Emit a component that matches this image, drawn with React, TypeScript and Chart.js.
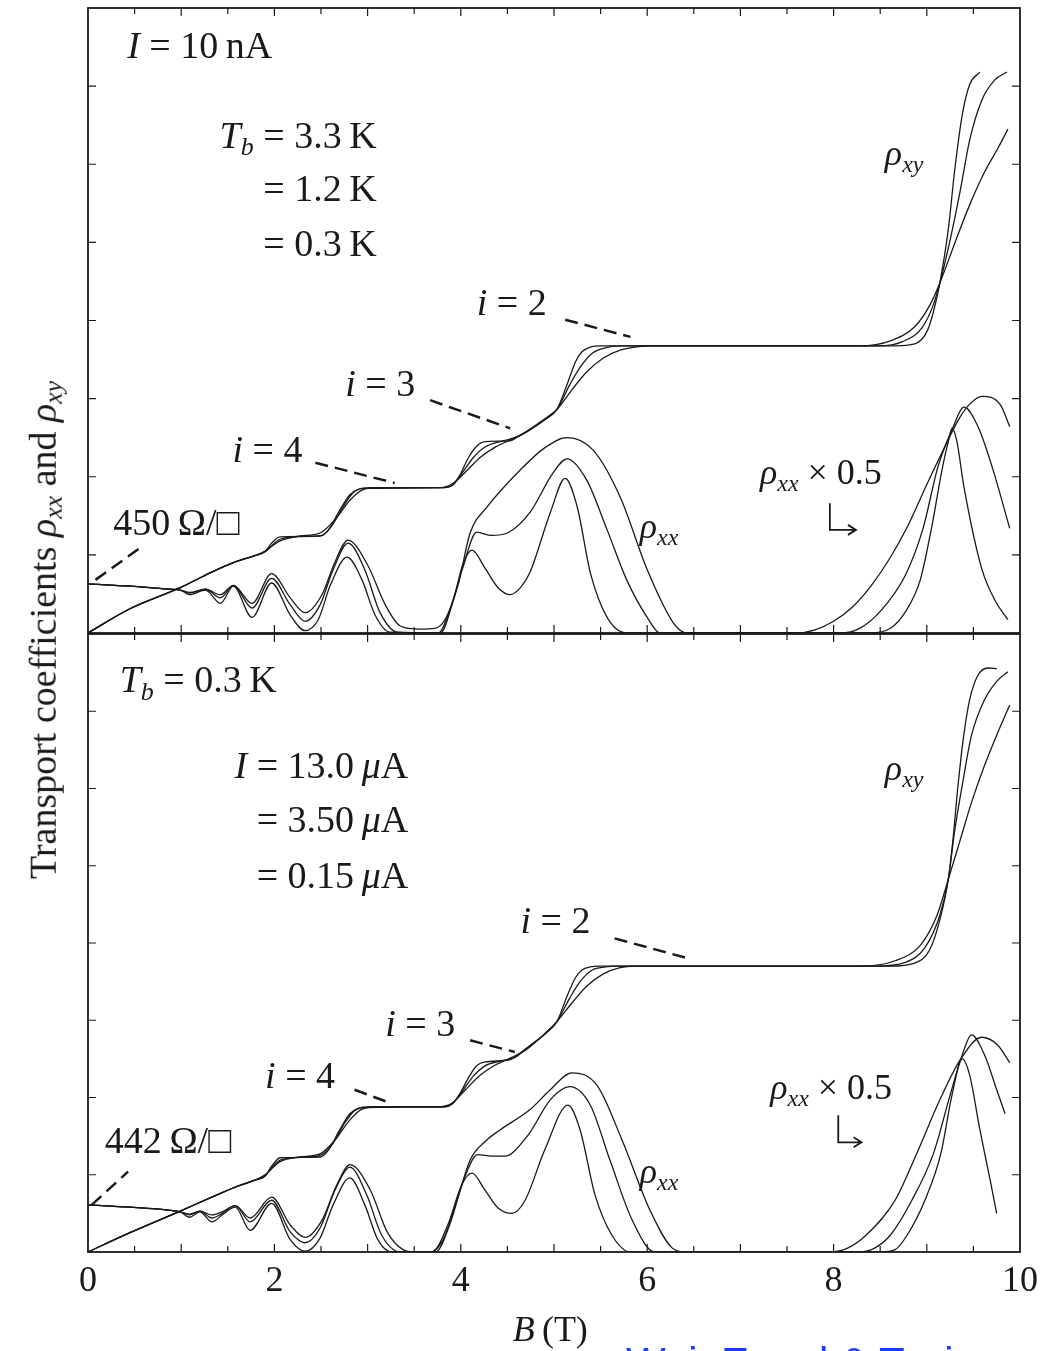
import React, { useEffect, useRef } from 'react';
import { Chart, registerables } from 'chart.js';

Chart.register(...registerables);

type Pt = [number, number];

// ---------------- DATA (B in tesla, coefficient in left-axis tick units) ----------------
const xTickValues = [0, 2, 4, 6, 8, 10];
const xTickLabels = ['0', '2', '4', '6', '8', '10'];

// Top panel: I = 10 nA, three bath temperatures
const topRhoXy_0K3: Pt[] = [
  [0, 0], [0.45, 0.31], [0.99, 0.58], [1.31, 0.77], [1.58, 0.91], [1.79, 0.99], [1.9, 1.04], [1.97, 1.15],
  [2.06, 1.23], [2.49, 1.24], [2.58, 1.32], [2.7, 1.57], [2.81, 1.77], [2.9, 1.84], [3.03, 1.86], [3.83, 1.86],
  [3.91, 1.89], [3.99, 2.02], [4.08, 2.24], [4.17, 2.39], [4.26, 2.45], [4.53, 2.46], [4.61, 2.51], [4.74, 2.6],
  [4.9, 2.73], [5.03, 2.86], [5.14, 3.18], [5.23, 3.47], [5.3, 3.6], [5.39, 3.66], [5.49, 3.675], [8.66, 3.675],
  [8.87, 3.7], [9.01, 3.88], [9.09, 4.2], [9.14, 4.48], [9.23, 5.16], [9.3, 5.93], [9.38, 6.63], [9.46, 7.02],
  [9.57, 7.18],
];
const topRhoXy_1K2: Pt[] = [
  [0, 0], [0.45, 0.31], [0.99, 0.58], [1.31, 0.77], [1.58, 0.91], [1.79, 0.99], [1.9, 1.04], [2.06, 1.2],
  [2.38, 1.24], [2.51, 1.25], [2.62, 1.38], [2.76, 1.66], [2.86, 1.81], [2.97, 1.85], [3.81, 1.86], [3.91, 1.89],
  [4.01, 2.04], [4.13, 2.24], [4.26, 2.38], [4.42, 2.45], [4.58, 2.5], [4.74, 2.6], [4.9, 2.73], [5.03, 2.86],
  [5.17, 3.18], [5.28, 3.4], [5.41, 3.58], [5.55, 3.65], [5.69, 3.675], [8.48, 3.675], [8.74, 3.73], [8.95, 3.91],
  [9.07, 4.2], [9.14, 4.48], [9.25, 5.03], [9.36, 5.67], [9.46, 6.31], [9.59, 6.82], [9.73, 7.08], [9.86, 7.18],
];
const topRhoXy_3K3: Pt[] = [
  [0, 0], [0.45, 0.31], [0.99, 0.58], [1.31, 0.77], [1.58, 0.91], [1.79, 0.99], [1.9, 1.05], [2.06, 1.18],
  [2.27, 1.24], [2.49, 1.28], [2.65, 1.45], [2.81, 1.7], [2.94, 1.83], [3.13, 1.86], [3.78, 1.86], [3.91, 1.91],
  [4.05, 2.06], [4.21, 2.25], [4.37, 2.38], [4.53, 2.47], [4.69, 2.57], [4.85, 2.7], [5.03, 2.86], [5.19, 3.11],
  [5.35, 3.34], [5.53, 3.52], [5.71, 3.62], [5.87, 3.66], [6.03, 3.675], [8.28, 3.675], [8.61, 3.74], [8.87, 3.92],
  [9.03, 4.19], [9.14, 4.48], [9.3, 4.99], [9.46, 5.48], [9.62, 5.9], [9.77, 6.22], [9.87, 6.45],
];
const topRhoXx_0K3: Pt[] = [
  [0, 0.63], [0.45, 0.6], [0.88, 0.56], [0.99, 0.55], [1.09, 0.49], [1.26, 0.55], [1.42, 0.38], [1.56, 0.6],
  [1.76, 0.2], [1.97, 0.64], [2.17, 0.23], [2.33, 0.03], [2.47, 0.17], [2.6, 0.61], [2.78, 0.97], [2.94, 0.68],
  [3.08, 0.23], [3.24, 0.01], [3.78, 0], [3.92, 0.42], [4.02, 0.87], [4.12, 1.06], [4.26, 0.83], [4.4, 0.58],
  [4.53, 0.49], [4.64, 0.58], [4.74, 0.77], [4.96, 1.54], [5.12, 1.98], [5.25, 1.61], [5.39, 0.77], [5.57, 0.2],
  [5.78, 0], [8.39, 0], [8.61, 0.06], [8.77, 0.27], [8.93, 0.68], [9.05, 1.34], [9.17, 2.13], [9.23, 2.45],
  [9.27, 2.62], [9.32, 2.47], [9.4, 1.86], [9.59, 0.82], [9.74, 0.4], [9.87, 0.17],
];
const topRhoXx_1K2: Pt[] = [
  [0, 0.63], [0.45, 0.6], [0.88, 0.56], [0.99, 0.55], [1.09, 0.51], [1.26, 0.56], [1.42, 0.45], [1.56, 0.61],
  [1.76, 0.32], [1.97, 0.7], [2.17, 0.36], [2.33, 0.15], [2.49, 0.36], [2.63, 0.81], [2.79, 1.15], [2.97, 0.81],
  [3.13, 0.27], [3.32, 0.01], [3.76, 0], [3.88, 0.29], [4.02, 0.83], [4.17, 1.29], [4.33, 1.25], [4.5, 1.28],
  [4.74, 1.54], [4.99, 2.05], [5.14, 2.23], [5.35, 1.96], [5.57, 1.32], [5.78, 0.68], [6.0, 0.2], [6.14, 0],
  [8.07, 0], [8.28, 0.06], [8.51, 0.29], [8.77, 0.74], [8.96, 1.34], [9.12, 2.13], [9.27, 2.6], [9.4, 2.89],
  [9.55, 2.64], [9.7, 2.13], [9.89, 1.34],
];
const topRhoXx_3K3: Pt[] = [
  [0, 0.63], [0.45, 0.6], [0.88, 0.56], [0.99, 0.55], [1.09, 0.52], [1.26, 0.56], [1.42, 0.49], [1.56, 0.61],
  [1.76, 0.38], [1.97, 0.76], [2.17, 0.45], [2.33, 0.26], [2.51, 0.49], [2.65, 0.91], [2.79, 1.19], [3.0, 0.87],
  [3.19, 0.36], [3.35, 0.09], [3.56, 0.05], [3.72, 0.06], [3.83, 0.17], [3.97, 0.61], [4.1, 1.28], [4.28, 1.61],
  [4.64, 2.09], [4.9, 2.37], [5.14, 2.5], [5.42, 2.34], [5.71, 1.74], [6.0, 0.81], [6.28, 0.13], [6.43, 0],
  [7.6, 0], [7.8, 0.04], [8.0, 0.15], [8.2, 0.33], [8.4, 0.6], [8.6, 0.95], [8.8, 1.38], [9.0, 1.9],
  [9.2, 2.4], [9.35, 2.75], [9.46, 2.93], [9.59, 3.03], [9.79, 2.92], [9.89, 2.64],
];

// Bottom panel: T_b = 0.3 K, three currents
const botRhoXy_0uA15: Pt[] = [
  [0, 0], [0.45, 0.25], [0.99, 0.53], [1.31, 0.7], [1.58, 0.84], [1.79, 0.93], [1.9, 0.98], [1.97, 1.11],
  [2.06, 1.22], [2.49, 1.23], [2.58, 1.32], [2.7, 1.58], [2.81, 1.79], [2.9, 1.86], [3.03, 1.88], [3.83, 1.88],
  [3.91, 1.92], [3.99, 2.05], [4.08, 2.25], [4.17, 2.41], [4.26, 2.46], [4.53, 2.49], [4.61, 2.55], [4.74, 2.67],
  [4.9, 2.82], [5.03, 2.98], [5.14, 3.31], [5.23, 3.55], [5.3, 3.65], [5.39, 3.69], [5.49, 3.7], [8.61, 3.7],
  [8.87, 3.74], [9.03, 3.91], [9.14, 4.3], [9.23, 4.82], [9.28, 5.33], [9.33, 5.98], [9.39, 6.63], [9.46, 7.15],
  [9.55, 7.47], [9.66, 7.56], [9.75, 7.55],
];
const botRhoXy_3uA50: Pt[] = [
  [0, 0], [0.45, 0.25], [0.99, 0.53], [1.31, 0.7], [1.58, 0.84], [1.79, 0.93], [1.9, 0.99], [2.06, 1.19],
  [2.38, 1.23], [2.51, 1.26], [2.62, 1.39], [2.76, 1.68], [2.86, 1.83], [2.97, 1.87], [3.81, 1.88], [3.91, 1.92],
  [4.01, 2.07], [4.13, 2.27], [4.26, 2.41], [4.42, 2.47], [4.58, 2.52], [4.74, 2.67], [4.9, 2.82], [5.03, 2.98],
  [5.17, 3.29], [5.28, 3.5], [5.41, 3.65], [5.55, 3.69], [5.69, 3.7], [8.44, 3.7], [8.77, 3.75], [8.98, 3.94],
  [9.14, 4.36], [9.23, 4.82], [9.3, 5.46], [9.39, 6.11], [9.48, 6.69], [9.62, 7.15], [9.76, 7.4], [9.87, 7.51],
];
const botRhoXy_13uA0: Pt[] = [
  [0, 0], [0.45, 0.25], [0.99, 0.53], [1.31, 0.7], [1.58, 0.84], [1.79, 0.93], [1.9, 1.0], [2.06, 1.17],
  [2.27, 1.23], [2.49, 1.27], [2.65, 1.45], [2.81, 1.71], [2.94, 1.85], [3.13, 1.88], [3.78, 1.88], [3.91, 1.93],
  [4.05, 2.1], [4.21, 2.29], [4.37, 2.42], [4.53, 2.51], [4.69, 2.61], [4.85, 2.77], [5.03, 2.98], [5.19, 3.22],
  [5.35, 3.44], [5.53, 3.6], [5.71, 3.68], [5.87, 3.7], [8.28, 3.7], [8.66, 3.77], [8.93, 3.97], [9.11, 4.36],
  [9.23, 4.82], [9.35, 5.3], [9.48, 5.82], [9.62, 6.3], [9.76, 6.72], [9.89, 7.08],
];
const botRhoXx_0uA15: Pt[] = [
  [0, 0.61], [0.45, 0.58], [0.88, 0.54], [0.99, 0.52], [1.09, 0.45], [1.2, 0.52], [1.33, 0.39], [1.44, 0.48],
  [1.58, 0.58], [1.74, 0.28], [1.97, 0.63], [2.17, 0.16], [2.33, 0.01], [2.49, 0.18], [2.63, 0.61], [2.81, 0.96],
  [2.97, 0.61], [3.11, 0.16], [3.26, 0], [3.69, 0], [3.86, 0.35], [4.01, 0.87], [4.12, 1.02], [4.26, 0.8],
  [4.4, 0.57], [4.55, 0.5], [4.69, 0.67], [4.9, 1.32], [5.15, 1.9], [5.28, 1.58], [5.44, 0.74], [5.62, 0.22],
  [5.82, 0], [8.5, 0], [8.66, 0.03], [8.79, 0.22], [8.98, 0.67], [9.15, 1.27], [9.27, 2.03], [9.38, 2.5],
  [9.46, 2.29], [9.57, 1.58], [9.68, 0.93], [9.75, 0.5],
];
const botRhoXx_3uA50: Pt[] = [
  [0, 0.61], [0.45, 0.58], [0.88, 0.54], [0.99, 0.52], [1.09, 0.48], [1.2, 0.53], [1.33, 0.44], [1.44, 0.5],
  [1.58, 0.6], [1.74, 0.39], [1.97, 0.67], [2.17, 0.26], [2.33, 0.12], [2.49, 0.31], [2.65, 0.8], [2.81, 1.1],
  [2.99, 0.74], [3.15, 0.22], [3.35, 0], [3.73, 0], [3.88, 0.35], [4.03, 0.93], [4.18, 1.26], [4.33, 1.24],
  [4.47, 1.24], [4.72, 1.51], [4.96, 1.97], [5.17, 2.14], [5.39, 1.9], [5.6, 1.19], [5.84, 0.41], [6.08, 0],
  [8.28, 0], [8.44, 0.05], [8.61, 0.22], [8.84, 0.67], [9.07, 1.27], [9.25, 2.03], [9.38, 2.55], [9.48, 2.81],
  [9.62, 2.55], [9.75, 2.1], [9.84, 1.79],
];
const botRhoXx_13uA0: Pt[] = [
  [0, 0.61], [0.45, 0.58], [0.88, 0.54], [0.99, 0.52], [1.09, 0.49], [1.2, 0.53], [1.33, 0.48], [1.44, 0.52],
  [1.58, 0.6], [1.74, 0.44], [1.97, 0.71], [2.17, 0.35], [2.33, 0.19], [2.51, 0.41], [2.67, 0.87], [2.81, 1.13],
  [3.03, 0.8], [3.21, 0.26], [3.38, 0.03], [3.51, 0], [3.67, 0], [3.81, 0.16], [3.96, 0.67], [4.1, 1.19],
  [4.28, 1.45], [4.42, 1.58], [4.74, 1.84], [4.96, 2.1], [5.19, 2.32], [5.46, 2.16], [5.73, 1.45], [6.03, 0.54],
  [6.27, 0.05], [6.41, 0], [7.96, 0], [8.15, 0.05], [8.35, 0.22], [8.66, 0.67], [8.89, 1.27], [9.14, 1.97],
  [9.36, 2.49], [9.59, 2.78], [9.76, 2.68], [9.89, 2.45],
];

// ---------------- annotation layout (data coordinates) ----------------
type Seg = { t: string; s?: 'i' | 'sub' };
type Label = { b: number; v: number; segs: Seg[]; size: number; anchor?: number };
type Leader = [Pt, Pt];
type Arrow = { b0: number; v0: number; v1: number; b1: number };

const rhoXX: Seg[] = [{ t: '\u03C1', s: 'i' }, { t: 'xx', s: 'sub' }];
const rhoXY: Seg[] = [{ t: '\u03C1', s: 'i' }, { t: 'xy', s: 'sub' }];
const iEq = (n: string): Seg[] => [{ t: 'i', s: 'i' }, { t: ' = ' + n }];

const topLabels: Label[] = [
  { b: 0.42, v: 7.36, size: 38, segs: [{ t: 'I', s: 'i' }, { t: ' = 10\u2009nA' }] },
  { b: 1.88, v: 6.21, size: 38, anchor: 3, segs: [{ t: 'T', s: 'i' }, { t: 'b', s: 'sub' }, { t: ' ' }, { t: '= 3.3\u2009K' }] },
  { b: 1.88, v: 5.53, size: 38, segs: [{ t: '= 1.2\u2009K' }] },
  { b: 1.88, v: 4.83, size: 38, segs: [{ t: '= 0.3\u2009K' }] },
  { b: 1.55, v: 2.19, size: 38, segs: iEq('4') },
  { b: 2.76, v: 3.03, size: 38, segs: iEq('3') },
  { b: 4.17, v: 4.07, size: 38, segs: iEq('2') },
  { b: 0.27, v: 1.25, size: 38, segs: [{ t: '450\u2009\u03A9/\u25A1' }] },
  { b: 5.92, v: 1.22, size: 36, segs: rhoXX },
  { b: 7.21, v: 1.91, size: 36, segs: [...rhoXX, { t: ' \u00D7 0.5' }] },
  { b: 8.55, v: 5.99, size: 36, segs: rhoXY },
];
const topLeaders: Leader[] = [
  [[0.08, 0.68], [0.56, 1.09]],
  [[2.44, 2.18], [3.29, 1.92]],
  [[3.67, 2.98], [4.53, 2.62]],
  [[5.12, 4.01], [5.82, 3.79]],
];
const topArrow: Arrow = { b0: 7.96, v0: 1.66, v1: 1.32, b1: 8.24 };

const botLabels: Label[] = [
  { b: 0.34, v: 7.25, size: 38, segs: [{ t: 'T', s: 'i' }, { t: 'b', s: 'sub' }, { t: ' = 0.3\u2009K' }] },
  { b: 1.81, v: 6.14, size: 38, anchor: 1, segs: [{ t: 'I ', s: 'i' }, { t: '= 13.0\u2009' }, { t: '\u03BC', s: 'i' }, { t: 'A' }] },
  { b: 1.81, v: 5.44, size: 38, segs: [{ t: '= 3.50\u2009' }, { t: '\u03BC', s: 'i' }, { t: 'A' }] },
  { b: 1.81, v: 4.71, size: 38, segs: [{ t: '= 0.15\u2009' }, { t: '\u03BC', s: 'i' }, { t: 'A' }] },
  { b: 4.64, v: 4.13, size: 38, segs: iEq('2') },
  { b: 3.19, v: 2.8, size: 38, segs: iEq('3') },
  { b: 1.9, v: 2.12, size: 38, segs: iEq('4') },
  { b: 0.18, v: 1.28, size: 38, segs: [{ t: '442\u2009\u03A9/\u25A1' }] },
  { b: 5.92, v: 0.89, size: 36, segs: rhoXX },
  { b: 7.32, v: 1.98, size: 36, segs: [...rhoXX, { t: ' \u00D7 0.5' }] },
  { b: 8.55, v: 6.11, size: 36, segs: rhoXY },
];
const botLeaders: Leader[] = [
  [[0.04, 0.61], [0.43, 1.04]],
  [[2.86, 2.1], [3.24, 1.93]],
  [[4.1, 2.74], [4.58, 2.59]],
  [[5.65, 4.06], [6.41, 3.81]],
];
const botArrow: Arrow = { b0: 8.05, v0: 1.77, v1: 1.42, b1: 8.3 };

// ---------------- rendering ----------------
const SERIF = '"Liberation Serif", "DejaVu Serif", serif';
const INK = '#1a1a1a';
const X_MIN = 0, X_MAX = 10, X_TICK_STEP = 0.5;
const Y_MIN = 0, Y_MAX = 8, Y_TICK_STEP = 1;

function segFont(s: Seg['s'], size: number) {
  if (s === 'i') return `italic ${size}px ${SERIF}`;
  if (s === 'sub') return `italic ${Math.round(size * 0.68)}px ${SERIF}`;
  return `${size}px ${SERIF}`;
}

function drawSegs(ctx: CanvasRenderingContext2D, segs: Seg[], x: number, y: number, size: number, anchor = 0, center = false) {
  ctx.textBaseline = 'alphabetic';
  ctx.textAlign = 'left';
  const w = segs.map((sg) => {
    ctx.font = segFont(sg.s, size);
    return ctx.measureText(sg.t).width;
  });
  const total = w.reduce((a, b) => a + b, 0);
  let cx = center ? x - total / 2 : x - w.slice(0, anchor).reduce((a, b) => a + b, 0);
  segs.forEach((sg, i) => {
    ctx.font = segFont(sg.s, size);
    ctx.fillText(sg.t, cx, y + (sg.s === 'sub' ? size * 0.2 : 0));
    cx += w[i];
  });
}

type PanelCfg = { labels: Label[]; leaders: Leader[]; arrow: Arrow; bottomAxis: boolean };

function decor(cfg: PanelCfg) {
  return {
    id: 'decor',
    afterDatasetsDraw(chart: any) {
      const { ctx, chartArea: a } = chart;
      const xs = chart.scales.x, ys = chart.scales.y;
      const X = (b: number) => xs.getPixelForValue(b);
      const Y = (v: number) => ys.getPixelForValue(v);
      ctx.save();
      ctx.strokeStyle = INK;
      ctx.fillStyle = INK;
      ctx.setLineDash([]);
      // frame
      ctx.lineWidth = 1.8;
      ctx.strokeRect(a.left, a.top, a.right - a.left, a.bottom - a.top);
      // inward ticks
      ctx.lineWidth = 1.2;
      ctx.beginPath();
      const nx = Math.round((X_MAX - X_MIN) / X_TICK_STEP);
      for (let k = 1; k < nx; k++) {
        const px = X(X_MIN + k * X_TICK_STEP);
        const len = k % 2 === 0 ? 8 : 6;
        ctx.moveTo(px, a.bottom); ctx.lineTo(px, a.bottom - len);
        ctx.moveTo(px, a.top); ctx.lineTo(px, a.top + len);
      }
      const ny = Math.round((Y_MAX - Y_MIN) / Y_TICK_STEP);
      for (let k = 1; k < ny; k++) {
        const py = Y(Y_MIN + k * Y_TICK_STEP);
        ctx.moveTo(a.left, py); ctx.lineTo(a.left + 8, py);
        ctx.moveTo(a.right, py); ctx.lineTo(a.right - 8, py);
      }
      ctx.stroke();
      // dashed leaders
      ctx.lineWidth = 2.5;
      ctx.setLineDash([13, 7]);
      for (const [p0, p1] of cfg.leaders) {
        ctx.beginPath();
        ctx.moveTo(X(p0[0]), Y(p0[1]));
        ctx.lineTo(X(p1[0]), Y(p1[1]));
        ctx.stroke();
      }
      ctx.setLineDash([]);
      // bent arrow
      const ar = cfg.arrow;
      const ax = X(ar.b0), ay0 = Y(ar.v0), ay1 = Y(ar.v1), ax1 = X(ar.b1);
      ctx.lineWidth = 1.8;
      ctx.beginPath();
      ctx.moveTo(ax, ay0); ctx.lineTo(ax, ay1); ctx.lineTo(ax1, ay1);
      ctx.moveTo(ax1 - 8, ay1 - 5); ctx.lineTo(ax1, ay1); ctx.lineTo(ax1 - 8, ay1 + 5);
      ctx.stroke();
      // labels
      for (const lb of cfg.labels) drawSegs(ctx, lb.segs, X(lb.b), Y(lb.v), lb.size, lb.anchor ?? 0);
      // x tick labels and title
      if (cfg.bottomAxis) {
        ctx.font = `36px ${SERIF}`;
        ctx.textAlign = 'center';
        ctx.textBaseline = 'alphabetic';
        xTickValues.forEach((v, i) => ctx.fillText(xTickLabels[i], X(v), a.bottom + 39));
        drawSegs(ctx, [{ t: 'B', s: 'i' }, { t: '\u2009(T)' }], X(4.96), a.bottom + 89, 36, 0, true);
      }
      ctx.restore();
    },
  };
}

const series = (p: Pt[]) => ({
  data: p.map(([x, y]) => ({ x, y })),
  borderColor: INK,
  borderWidth: 1.3,
  pointRadius: 0,
  fill: false,
  cubicInterpolationMode: 'monotone' as const,
});

function makeChart(canvas: HTMLCanvasElement, curves: Pt[][], padding: any, cfg: PanelCfg) {
  return new Chart(canvas, {
    type: 'line',
    data: { datasets: curves.map(series) as any },
    options: {
      animation: false,
      responsive: false,
      devicePixelRatio: 1,
      events: [],
      layout: { padding },
      plugins: { legend: { display: false }, tooltip: { enabled: false } },
      scales: {
        x: { type: 'linear', min: X_MIN, max: X_MAX, display: false },
        y: { type: 'linear', min: Y_MIN, max: Y_MAX, display: false },
      },
    },
    plugins: [decor(cfg)],
  } as any);
}

export default function App() {
  const topRef = useRef<HTMLCanvasElement>(null);
  const botRef = useRef<HTMLCanvasElement>(null);

  useEffect(() => {
    document.body.style.margin = '0';
    const c1 = makeChart(
      topRef.current!,
      [topRhoXx_3K3, topRhoXx_1K2, topRhoXx_0K3, topRhoXy_3K3, topRhoXy_1K2, topRhoXy_0K3],
      { left: 88, right: 44, top: 8, bottom: 7 },
      { labels: topLabels, leaders: topLeaders, arrow: topArrow, bottomAxis: false },
    );
    const c2 = makeChart(
      botRef.current!,
      [botRhoXx_13uA0, botRhoXx_3uA50, botRhoXx_0uA15, botRhoXy_13uA0, botRhoXy_3uA50, botRhoXy_0uA15],
      { left: 88, right: 44, top: 34, bottom: 99 },
      { labels: botLabels, leaders: botLeaders, arrow: botArrow, bottomAxis: true },
    );
    return () => {
      c1.destroy();
      c2.destroy();
    };
  }, []);

  const sub: React.CSSProperties = { fontSize: '0.68em', verticalAlign: '-0.22em', fontStyle: 'italic' };

  return (
    <div style={{ position: 'relative', width: 1064, height: 1351, overflow: 'hidden', background: '#fff' }}>
      <canvas ref={topRef} width={1064} height={640} style={{ position: 'absolute', left: 0, top: 0, width: 1064, height: 640 }} />
      <canvas ref={botRef} width={1064} height={751} style={{ position: 'absolute', left: 0, top: 600, width: 1064, height: 751 }} />
      <div
        style={{
          position: 'absolute', left: 45, top: 630, transform: 'translate(-50%, -50%) rotate(-90deg)',
          whiteSpace: 'nowrap', font: `38px ${SERIF}`, lineHeight: 1, color: INK,
        }}
      >
        Transport coefficients <i>ρ</i><span style={sub}>xx</span> and <i>ρ</i><span style={sub}>xy</span>
      </div>
      <div
        style={{
          position: 'absolute', left: 626, top: 1342, whiteSpace: 'nowrap',
          font: '42px "Liberation Sans", Arial, sans-serif', lineHeight: '42px', color: '#1c3cf5',
        }}
      >
        Wei, Engel &amp; Tsui
      </div>
    </div>
  );
}
